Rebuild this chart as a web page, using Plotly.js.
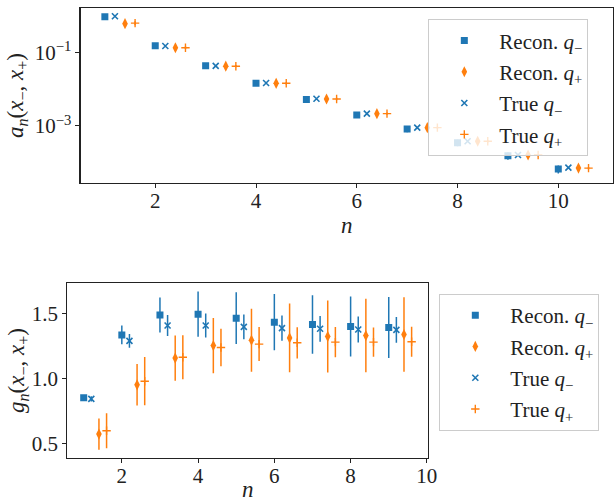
<!DOCTYPE html>
<html>
<head>
<meta charset="utf-8">
<script src="https://cdn.plot.ly/plotly-3.0.1.min.js"></script>
<style>
html,body{margin:0;padding:0;background:#fff;}
#chart{width:614px;height:502px;}
</style>
</head>
<body>
<div id="chart"></div>
<script>
// ---- data (top panel: a_n) ----
const nTop = [1, 2, 3, 4, 5, 6, 7, 8, 9, 10];
const aReconMinus = [0.92, 0.15, 0.043, 0.0144, 0.0052, 0.0020, 0.00083, 0.00035, 0.000156, 0.000068];
const aReconMinusErr = [0.028, 0.0045, 0.0017, 0.0007, 0.0004, 0.0003, 0.00015, 0.00007, 0.000034, 0.000017];
const aTrueMinus = [0.95, 0.148, 0.043, 0.0147, 0.0055, 0.00216, 0.0009, 0.000385, 0.000163, 0.000074];
const aTrueMinusErr = [0.019, 0.003, 0.0009, 0.0003, 0.0001, 0.00004, 0.000018, 0.000008, 0.0000035, 0.0000015];
const aReconPlus = [0.6, 0.133, 0.042, 0.0144, 0.0054, 0.00216, 0.0009, 0.000385, 0.000163, 0.000072];
const aReconPlusErr = [0.07, 0.013, 0.0042, 0.0014, 0.00054, 0.0002, 0.00008, 0.000035, 0.000015, 0.0000065];
const aTruePlus = [0.62, 0.133, 0.042, 0.0144, 0.0054, 0.00216, 0.0009, 0.000385, 0.000163, 0.000072];
const aTruePlusErr = [0.075, 0.01, 0.003, 0.001, 0.0004, 0.00015, 0.00006, 0.000027, 0.000011, 0.000005];

// ---- data (bottom panel: g_n) ----
const nBot = [1, 2, 3, 4, 5, 6, 7, 8, 9];
const gReconMinus = [0.851, 1.336, 1.49, 1.496, 1.465, 1.434, 1.416, 1.401, 1.393];
const gReconMinusErr = [0.02, 0.073, 0.135, 0.175, 0.2, 0.217, 0.225, 0.231, 0.236];
const gTrueMinus = [0.843, 1.29, 1.408, 1.408, 1.398, 1.388, 1.383, 1.378, 1.375];
const gTrueMinusErr = [0.02, 0.053, 0.081, 0.093, 0.095, 0.098, 0.099, 0.1, 0.099];
const gReconPlus = [0.571, 0.951, 1.157, 1.254, 1.295, 1.313, 1.324, 1.331, 1.339];
const gReconPlusErr = [0.12, 0.16, 0.175, 0.213, 0.243, 0.265, 0.277, 0.283, 0.288];
const gTruePlus = [0.597, 0.979, 1.164, 1.239, 1.265, 1.275, 1.28, 1.28, 1.283];
const gTruePlusErr = [0.135, 0.186, 0.17, 0.145, 0.131, 0.12, 0.117, 0.113, 0.115];

const seriesNames = ['Recon. <i>q</i><sub>−</sub>', 'Recon. <i>q</i><sub>+</sub>', 'True <i>q</i><sub>−</sub>', 'True <i>q</i><sub>+</sub>'];
const yTickVals = [0.1, 0.001];
const yTickText = ['10<sup>−1</sup>', '10<sup>−3</sup>'];

const BLUE = '#1f77b4', ORANGE = '#ff7f0e';
const FONT = 'Liberation Serif';

const styles = [
  {color: BLUE, symbol: 'square', size: 7, lw: 0, off: 0},
  {color: ORANGE, symbol: 'diamond-tall', size: 8, lw: 0, off: 0.4},
  {color: BLUE, symbol: 'x-thin-open', size: 6, lw: 1.6, off: 0.2},
  {color: ORANGE, symbol: 'cross-thin-open', size: 6, lw: 1.4, off: 0.6}
];

function mk(n, y, err, i, xa, ya, leg) {
  const s = styles[i];
  return {
    type: 'scatter', mode: 'markers',
    x: n.map(v => v + s.off), y: y,
    error_y: {type: 'data', array: err, visible: true, color: s.color, thickness: 1.5, width: 0},
    marker: {color: s.color, symbol: s.symbol, size: s.size, line: {color: s.color, width: s.lw}},
    name: seriesNames[i], xaxis: xa, yaxis: ya, legend: leg, legendgroup: leg + i,
    showlegend: true, hoverinfo: 'x+y'
  };
}

const data = [
  mk(nTop, aReconMinus, aReconMinusErr, 0, 'x', 'y', 'legend'),
  mk(nTop, aReconPlus, aReconPlusErr, 1, 'x', 'y', 'legend'),
  mk(nTop, aTrueMinus, aTrueMinusErr, 2, 'x', 'y', 'legend'),
  mk(nTop, aTruePlus, aTruePlusErr, 3, 'x', 'y', 'legend'),
  mk(nBot, gReconMinus, gReconMinusErr, 0, 'x2', 'y2', 'legend2'),
  mk(nBot, gReconPlus, gReconPlusErr, 1, 'x2', 'y2', 'legend2'),
  mk(nBot, gTrueMinus, gTrueMinusErr, 2, 'x2', 'y2', 'legend2'),
  mk(nBot, gTruePlus, gTruePlusErr, 3, 'x2', 'y2', 'legend2')
];

const axBase = {
  showline: true, mirror: true, linecolor: '#222', linewidth: 1.2,
  ticks: 'outside', ticklen: 4, tickwidth: 1, tickcolor: '#222',
  showgrid: false, zeroline: false,
  tickfont: {family: FONT, size: 21, color: '#222'}
};

const legBase = {
  bgcolor: 'rgba(255,255,255,0.8)', bordercolor: '#cccccc', borderwidth: 1,
  font: {family: FONT, size: 21, color: '#222'},
  xanchor: 'left', yanchor: 'top', itemwidth: 60, tracegroupgap: 1,
  itemclick: false, itemdoubleclick: false
};

const layout = {
  width: 614, height: 502,
  margin: {l: 0, r: 0, t: 0, b: 0},
  paper_bgcolor: '#fff', plot_bgcolor: '#fff',
  font: {family: FONT},
  showlegend: true,
  xaxis: Object.assign({}, axBase, {
    domain: [0.1314, 0.9979], range: [0.52, 11.08], dtick: 2, tick0: 0, anchor: 'y',
    ticklabelstandoff: -5,
    title: {text: '<i>n</i>', font: {family: FONT, size: 23, color: '#222'}, standoff: 0}
  }),
  yaxis: Object.assign({}, axBase, {
    domain: [0.6355, 0.984], type: 'log', range: [-4.547, 0.202], anchor: 'x',
    tickvals: yTickVals, ticktext: yTickText,
    title: {text: '<i>a</i><sub><i>n</i></sub>(<i>x</i><sub>−</sub>, <i>x</i><sub>+</sub>)', font: {family: FONT, size: 23, color: '#222'}, standoff: 4}
  }),
  xaxis2: Object.assign({}, axBase, {
    domain: [0.1096, 0.6971], range: [0.57, 10.03], dtick: 2, tick0: 0, anchor: 'y2',
    ticklabelstandoff: -5,
    title: {text: '<i>n</i>', font: {family: FONT, size: 23, color: '#222'}, standoff: 16}
  }),
  yaxis2: Object.assign({}, axBase, {
    domain: [0.0882, 0.4357], range: [0.389, 1.734], dtick: 0.5, tick0: 0, tickformat: '.1f', anchor: 'x2',
    title: {text: '<i>g</i><sub><i>n</i></sub>(<i>x</i><sub>−</sub>, <i>x</i><sub>+</sub>)', font: {family: FONT, size: 23, color: '#222'}, standoff: 0}
  }),
  legend: Object.assign({}, legBase, {x: 0.6976, y: 0.9616}),
  legend2: Object.assign({}, legBase, {x: 0.7155, y: 0.4143})
};

Plotly.newPlot('chart', data, layout, {displayModeBar: false, staticPlot: true});
</script>
</body>
</html>
